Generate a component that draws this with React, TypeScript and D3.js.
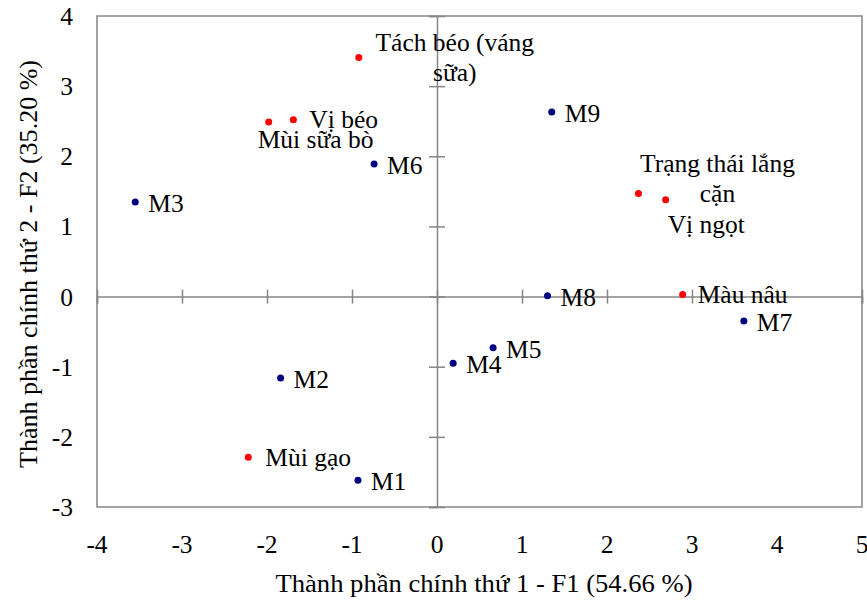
import React, { useEffect, useRef } from 'react'
import * as d3 from 'd3'

// samples (blue) and sensory attributes (red)
const sampleNames = ['M1', 'M2', 'M3', 'M4', 'M5', 'M6', 'M7', 'M8', 'M9']
const sampleF1 = [-0.93, -1.84, -3.55, 0.19, 0.66, -0.74, 3.61, 1.3, 1.35]
const sampleF2 = [-2.62, -1.16, 1.35, -0.95, -0.73, 1.89, -0.35, 0.01, 2.63]

const attrNames = [
  ['Tách béo (váng', 'sữa)'],
  ['Vị béo'],
  ['Mùi sữa bò'],
  ['Trạng thái lắng', 'cặn'],
  ['Vị ngọt'],
  ['Màu nâu'],
  ['Mùi gạo'],
]
const attrF1 = [-0.92, -1.69, -1.98, 2.37, 2.69, 2.89, -2.22]
const attrF2 = [3.41, 2.52, 2.49, 1.47, 1.38, 0.03, -2.29]

const xTicks = [-4, -3, -2, -1, 0, 1, 2, 3, 4, 5]
const yTicks = [-3, -2, -1, 0, 1, 2, 3, 4]

const xTitle = 'Thành phần chính thứ 1 -  F1 (54.66 %)'
const yTitle = 'Thành phần chính thứ 2 - F2 (35.20 %)'

// label placement relative to its point: [dx, dy, anchor]
const attrLabelPos: [number, number, string][] = [
  [96, -6, 'middle'],
  [16, 8, 'start'],
  [-11, 26, 'start'],
  [79, -21, 'middle'],
  [2, 33, 'start'],
  [15, 9, 'start'],
  [17, 9, 'start'],
]

const W = 867
const H = 601
const margin = { left: 97, top: 16, right: 5, bottom: 94 }
const font = '"Liberation Serif", "Times New Roman", serif'
const grey = '#868686'

export default function App() {
  const ref = useRef<SVGSVGElement>(null)

  useEffect(() => {
    const svg = d3.select(ref.current)
    svg.selectAll('*').remove()

    const x = d3.scaleLinear().domain([-4, 5]).range([margin.left, W - margin.right])
    const y = d3.scaleLinear().domain([-3, 4]).range([H - margin.bottom, margin.top])

    const g = svg.append('g').attr('font-family', font).attr('font-size', 25.5)

    // frame
    g.append('rect')
      .attr('x', x(-4))
      .attr('y', y(4))
      .attr('width', x(5) - x(-4))
      .attr('height', y(-3) - y(4))
      .attr('fill', 'none')
      .attr('stroke', grey)
      .attr('stroke-width', 1.5)

    // zero lines with crossing ticks
    const zx = g.append('g').attr('transform', `translate(0, ${y(0)})`)
      .call(d3.axisBottom(x).tickValues(xTicks).tickSize(7).tickFormat(() => ''))
    zx.selectAll('.tick line').attr('y1', -7)
    const zy = g.append('g').attr('transform', `translate(${x(0)}, 0)`)
      .call(d3.axisLeft(y).tickValues(yTicks).tickSize(8).tickFormat(() => ''))
    zy.selectAll('.tick line').attr('x1', 8)
    g.selectAll('.domain, .tick line').attr('stroke', grey).attr('stroke-width', 1.5)

    // tick labels outside the frame
    g.append('g').selectAll('text')
      .data(xTicks)
      .enter()
      .append('text')
      .attr('x', d => x(d))
      .attr('y', 553)
      .attr('text-anchor', 'middle')
      .text(d => String(d))
    g.append('g').selectAll('text')
      .data(yTicks)
      .enter()
      .append('text')
      .attr('x', 73)
      .attr('y', d => y(d) + 9)
      .attr('text-anchor', 'end')
      .text(d => String(d))

    // axis titles
    g.append('text')
      .attr('x', 484)
      .attr('y', 592)
      .attr('text-anchor', 'middle')
      .attr('textLength', 417)
      .attr('lengthAdjust', 'spacingAndGlyphs')
      .text(xTitle)
    g.append('text')
      .attr('transform', `translate(37, 264) rotate(-90)`)
      .attr('text-anchor', 'middle')
      .attr('textLength', 408)
      .attr('lengthAdjust', 'spacingAndGlyphs')
      .text(yTitle)

    // samples
    const s = g.append('g').selectAll('g')
      .data(sampleNames)
      .enter()
      .append('g')
    s.append('circle')
      .attr('cx', (d, i) => x(sampleF1[i]))
      .attr('cy', (d, i) => y(sampleF2[i]))
      .attr('r', 3.5)
      .attr('fill', '#000080')
    s.append('text')
      .attr('x', (d, i) => x(sampleF1[i]) + 13)
      .attr('y', (d, i) => y(sampleF2[i]) + 10)
      .text(d => d)

    // attributes
    const a = g.append('g').selectAll('g')
      .data(attrNames)
      .enter()
      .append('g')
    a.append('circle')
      .attr('cx', (d, i) => x(attrF1[i]))
      .attr('cy', (d, i) => y(attrF2[i]))
      .attr('r', 3.5)
      .attr('fill', '#ff0000')
    a.append('text')
      .attr('text-anchor', (d, i) => attrLabelPos[i][2])
      .each(function (d, i) {
        const t = d3.select(this)
        d.forEach((line, k) => {
          t.append('tspan')
            .attr('x', x(attrF1[i]) + attrLabelPos[i][0])
            .attr('y', y(attrF2[i]) + attrLabelPos[i][1] + k * 30)
            .text(line)
        })
      })
  }, [])

  return (
    <svg
      ref={ref}
      width={W}
      height={H}
      style={{ position: 'absolute', left: 0, top: 0, background: '#fff' }}
    />
  )
}
